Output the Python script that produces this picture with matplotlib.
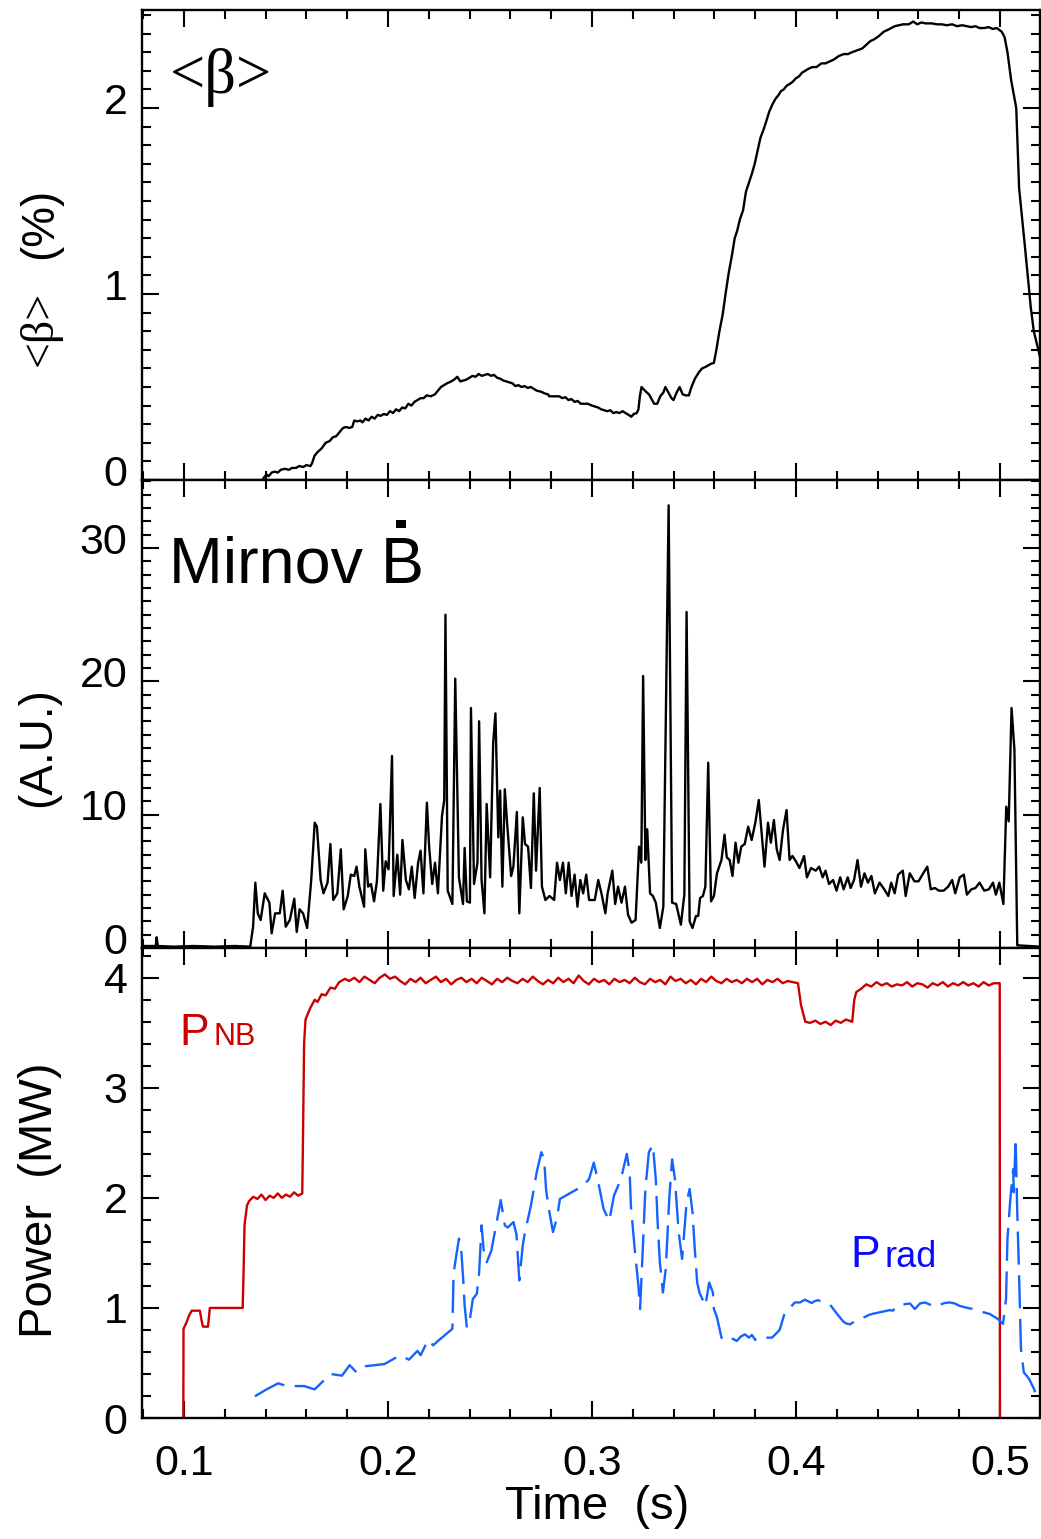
import numpy as np
import matplotlib
matplotlib.use('Agg')
import matplotlib.pyplot as plt
from matplotlib.ticker import MultipleLocator, FixedLocator
from matplotlib.transforms import ScaledTranslation
from matplotlib.patches import Rectangle

plt.rcParams['font.family'] = ['Liberation Sans', 'DejaVu Sans']

# ---------------- data (time in ms) ----------------
beta_t = [139.0,140.5,141.5,143.0,144.5,146.0,147.5,149.5,151.5,153.0,155.0,156.5,158.5,160.0,162.0,162.8,
          164.0,165.5,167.5,169.5,171.5,173.0,174.6,176.5,178.0,179.5,181.0,182.5,183.5,185.0,186.5,187.5,
          189.0,190.5,192.0,193.5,195.0,196.5,198.0,199.5,201.0,202.5,204.0,205.5,207.0,208.5,210.0,211.5,
          213.0,214.5,216.0,217.5,219.0,221.0,223.0,224.5,226.0,227.5,229.0,231.0,232.5,234.0,235.5,237.0,
          238.5,240.0,241.5,243.0,244.5,246.0,247.5,249.0,250.5,252.0,253.5,255.0,256.5,258.0,259.5,261.0,
          262.5,264.0,265.5,267.0,268.5,270.0,271.5,273.0,275.0,277.0,278.6,279.0,282.0,284.0,285.5,287.0,
          288.5,290.0,291.5,293.0,294.5,296.0,298.0,300.0,301.5,303.0,304.5,306.0,307.5,309.0,310.5,312.0,
          313.5,315.0,316.5,318.0,319.3,320.5,322.0,322.8,323.5,324.3,326.0,328.0,329.5,330.5,332.0,333.5,
          335.0,336.0,337.5,339.0,340.0,341.5,343.0,344.5,346.0,347.5,348.8,350.5,352.5,354.0,356.0,358.4,
          359.8,361.0,362.5,364.1,365.5,367.0,368.5,370.0,371.2,372.5,374.1,375.5,377.0,378.5,379.8,381.2,
          382.6,384.0,385.5,386.9,388.5,390.0,391.5,392.6,394.0,395.5,397.0,398.3,400.0,401.5,403.0,404.5,
          406.0,408.0,410.0,412.5,414.5,416.5,418.5,421.1,423.5,425.5,427.5,430.0,432.5,434.5,436.5,438.5,
          441.0,443.0,445.0,446.7,448.5,450.5,452.5,455.3,457.5,459.5,461.5,463.5,466.7,469.0,471.5,474.0,
          476.5,479.0,481.5,483.8,486.0,488.0,490.0,492.3,494.5,496.5,498.5,500.9,502.3,503.7,505.5,508.0,
          509.4,512.3,515.1,516.6,519.7]
beta_v = [0.01,0.03,0.02,0.04,0.045,0.04,0.055,0.06,0.055,0.065,0.065,0.075,0.07,0.08,0.075,0.09,
          0.13,0.15,0.17,0.20,0.21,0.23,0.235,0.26,0.28,0.285,0.28,0.285,0.32,0.315,0.32,0.31,
          0.33,0.32,0.34,0.33,0.35,0.345,0.355,0.35,0.37,0.36,0.38,0.37,0.39,0.385,0.41,0.40,
          0.42,0.43,0.44,0.44,0.455,0.45,0.46,0.48,0.50,0.51,0.52,0.53,0.54,0.555,0.53,0.535,
          0.54,0.55,0.56,0.555,0.57,0.56,0.565,0.57,0.56,0.565,0.55,0.545,0.535,0.53,0.525,0.52,
          0.505,0.51,0.50,0.505,0.495,0.50,0.49,0.48,0.475,0.465,0.46,0.45,0.45,0.45,0.44,0.445,
          0.43,0.435,0.42,0.425,0.41,0.41,0.41,0.40,0.395,0.39,0.38,0.375,0.37,0.375,0.36,0.365,
          0.36,0.37,0.36,0.35,0.34,0.355,0.36,0.38,0.45,0.50,0.48,0.46,0.43,0.41,0.41,0.45,
          0.47,0.50,0.47,0.44,0.43,0.47,0.50,0.46,0.455,0.455,0.50,0.545,0.58,0.60,0.61,0.625,
          0.63,0.70,0.80,0.89,1.00,1.11,1.20,1.30,1.34,1.40,1.45,1.55,1.60,1.65,1.70,1.77,
          1.84,1.88,1.93,1.98,2.02,2.05,2.07,2.09,2.10,2.12,2.13,2.14,2.16,2.17,2.19,2.20,
          2.21,2.22,2.22,2.24,2.24,2.25,2.26,2.28,2.29,2.29,2.30,2.31,2.32,2.34,2.36,2.37,
          2.39,2.41,2.42,2.43,2.44,2.445,2.45,2.45,2.465,2.45,2.46,2.455,2.455,2.45,2.45,2.445,
          2.45,2.44,2.445,2.44,2.435,2.44,2.43,2.43,2.435,2.425,2.43,2.41,2.38,2.30,2.15,2.00,
          1.57,1.25,0.93,0.80,0.66]

mir_t = [79.5,84.0,86.2,86.6,87.2,95.0,105.0,115.0,125.0,132.5,
         133.9,135.0,136.2,137.6,139.6,141.9,143.0,144.7,147.0,148.4,149.9,151.9,154.1,155.3,156.7,158.4,
         160.4,162.4,164.1,165.2,167.0,168.4,170.4,171.8,173.2,175.2,176.9,178.3,180.3,181.8,183.5,184.6,
         186.0,188.3,188.9,190.3,191.7,193.2,194.6,196.3,197.7,198.9,200.3,202.0,202.8,204.6,206.0,207.1,
         208.8,210.3,211.7,213.1,214.8,216.0,217.4,219.1,220.2,221.7,223.1,224.5,226.5,227.6,228.2,229.3,
         231.6,233.0,234.8,236.8,237.6,238.7,240.2,240.7,242.2,243.9,244.7,245.9,247.3,248.4,250.1,251.6,
         252.7,254.1,255.0,256.1,257.3,258.4,260.4,261.5,263.2,264.4,266.1,267.2,268.7,270.1,271.5,272.6,
         274.4,275.5,277.2,279.2,281.5,282.9,284.3,285.8,287.2,288.6,290.0,291.5,292.9,294.3,295.7,297.2,
         298.6,301.4,303.1,304.8,306.6,307.7,310.0,311.4,312.8,314.5,316.2,317.7,319.4,321.4,323.1,324.2,
         325.1,326.2,327.1,328.5,329.9,331.3,333.3,335.0,337.6,339.3,341.3,343.6,345.3,346.4,347.9,349.3,
         351.0,352.1,353.0,354.4,355.6,357.0,358.4,359.8,361.3,363.5,365.0,366.1,367.5,368.9,370.4,371.8,
         373.2,374.9,376.6,378.3,380.1,381.8,383.2,384.6,386.3,387.7,389.2,390.6,392.0,393.7,395.4,396.9,
         398.3,400.0,401.7,404.0,405.4,407.4,409.7,411.4,413.1,414.5,416.2,418.2,419.9,421.7,423.4,425.4,
         426.8,428.5,430.2,431.9,433.6,435.3,437.0,438.7,441.0,443.3,445.3,446.7,448.4,450.1,452.4,453.8,
         455.8,458.1,460.1,462.4,464.4,466.1,468.1,470.1,472.4,474.6,476.6,478.1,480.3,482.3,483.8,486.0,
         488.0,490.0,492.3,494.6,496.6,498.0,499.7,501.7,503.1,504.3,505.7,507.1,508.5,520.0]
mir_v = [0.15,0.15,0.15,0.8,0.15,0.1,0.15,0.1,0.15,0.1,
         1.6,4.9,2.6,2.1,4.1,3.4,1.1,2.6,2.6,4.3,1.6,2.1,3.7,1.2,2.9,2.6,
         1.5,5.1,9.4,9.1,5.1,4.1,4.9,7.8,3.6,4.1,7.4,2.9,3.9,5.5,5.4,6.1,
         4.6,3.1,7.4,4.6,4.8,3.5,5.0,10.8,4.3,6.5,5.9,14.4,3.9,7.0,4.0,8.1,
         5.1,4.4,6.1,3.75,6.4,7.3,4.1,10.9,7.6,4.8,6.4,4.1,9.9,11.1,25.0,4.3,
         3.3,20.2,5.3,3.3,7.5,3.5,3.4,18.0,4.8,6.4,17.0,5.1,2.6,10.8,5.3,15.4,
         17.6,8.3,11.8,4.6,11.9,9.4,5.4,6.1,10.2,2.6,9.8,7.8,7.6,4.5,11.6,5.8,
         12.0,4.6,3.6,3.9,3.6,6.4,5.1,6.4,4.1,6.4,3.9,5.5,3.1,5.1,4.1,5.5,
         3.6,3.6,5.1,4.0,2.6,4.1,5.8,3.3,4.6,3.4,4.6,2.5,1.9,2.1,7.6,6.4,
         20.4,6.6,8.9,4.1,3.9,3.4,1.5,3.1,33.2,3.4,3.3,1.75,4.0,25.2,2.0,1.5,
         2.4,2.4,3.75,3.9,4.6,13.9,3.5,3.9,5.6,6.6,8.5,6.8,6.6,5.4,7.9,6.4,
         7.6,7.8,9.1,8.1,9.4,11.1,8.6,6.1,9.4,7.9,9.6,7.4,6.6,8.9,10.35,6.6,
         6.9,6.5,6.0,6.9,5.3,6.0,5.8,6.1,5.3,5.8,4.8,5.1,4.3,5.3,4.4,5.3,
         4.5,5.1,6.6,4.6,5.6,4.9,5.4,4.1,4.9,4.4,3.9,4.9,4.1,5.5,5.8,3.9,
         5.6,5.0,5.0,5.6,6.1,4.4,4.5,4.3,4.3,4.6,5.1,4.1,5.3,5.5,4.0,4.4,
         4.5,4.9,4.3,4.4,4.9,4.0,4.9,3.3,10.6,9.5,18.0,14.9,0.2,0.1]

pnb_t = [99.7,99.8,101.3,102.5,103.8,107.8,108.5,109.3,111.8,112.7,128.8,129.2,129.7,130.9,131.9,
         134.0,136.0,138.0,140.0,142.0,144.0,146.0,148.0,150.0,152.0,154.0,156.0,158.0,158.4,158.9,159.6,
         161.8,164.1,165.5,167.5,169.5,171.8,174.0,176.1,178.9,
         181.0,183.5,186.0,188.5,191.0,193.5,196.0,198.5,201.0,203.5,206.0,208.5,211.0,213.5,216.0,218.5,
         221.0,223.5,226.0,228.5,231.0,233.5,236.0,238.5,241.0,243.5,246.0,248.5,251.0,253.5,256.0,258.5,
         261.0,263.5,266.0,268.5,271.0,273.5,276.0,278.5,281.0,283.5,286.0,288.5,291.0,293.5,296.0,298.5,
         301.0,303.5,306.0,308.5,311.0,313.5,316.0,318.5,321.0,323.5,326.0,328.5,331.0,333.5,336.0,338.5,
         341.0,343.5,346.0,348.5,351.0,353.5,356.0,358.5,361.0,363.5,366.0,368.5,371.0,373.5,376.0,378.5,
         381.0,383.5,386.0,388.5,391.0,393.5,396.0,398.5,401.0,
         402.5,404.6,407.0,409.5,412.0,414.5,417.0,419.5,422.0,424.5,427.6,428.6,429.6,432.0,434.5,437.0,
         439.5,442.0,444.5,447.0,449.5,452.0,454.5,457.0,459.5,462.0,464.5,467.0,469.5,472.0,474.5,477.0,
         479.5,482.0,484.5,487.0,489.5,492.0,494.5,497.0,499.9,500.0]
pnb_v = [0.0,0.81,0.87,0.93,0.975,0.975,0.90,0.83,0.83,1.0,1.0,1.3,1.75,1.93,1.97,
         2.01,1.99,2.03,1.98,2.02,2.00,2.04,2.00,2.03,2.01,2.05,2.02,2.04,2.6,3.4,3.62,
         3.72,3.80,3.78,3.85,3.84,3.91,3.90,3.96,3.99,
         3.97,4.00,3.96,4.01,3.98,3.95,4.00,4.03,3.99,4.01,3.97,3.94,3.99,3.96,4.00,3.95,
         3.98,4.01,3.96,3.99,3.94,3.98,4.00,3.96,3.99,3.95,4.00,3.97,3.94,3.99,3.96,4.00,
         3.97,3.95,3.99,3.96,4.01,3.97,3.94,3.98,3.95,4.00,3.96,3.99,3.95,4.02,3.97,3.94,
         3.99,3.96,3.98,3.94,3.99,3.96,3.98,3.95,4.00,3.96,3.94,3.99,3.96,3.98,3.94,4.01,
         3.97,3.99,3.95,3.98,3.94,3.99,3.96,4.01,3.97,3.95,3.99,3.96,3.98,3.95,3.99,3.96,
         3.99,3.94,3.98,3.96,3.99,3.95,3.97,3.96,3.95,
         3.75,3.60,3.59,3.61,3.58,3.60,3.57,3.61,3.59,3.62,3.60,3.80,3.87,3.90,3.94,3.92,
         3.96,3.93,3.95,3.92,3.94,3.93,3.96,3.92,3.95,3.94,3.91,3.95,3.93,3.96,3.92,3.95,
         3.93,3.96,3.93,3.95,3.92,3.96,3.93,3.95,3.95,0.0]

prad_t = [134.8,140.5,146.2,150.4,159.0,164.1,171.8,177.5,181.2,184.6,188.9,198.3,206.0,210.3,214.5,216.0,
          219.7,222.2,224.5,231.6,232.2,234.8,235.9,237.0,237.6,238.7,240.2,241.6,243.6,244.7,245.9,247.0,
          248.4,250.7,253.0,255.3,257.3,258.7,261.5,263.0,264.4,266.1,267.2,270.1,272.9,275.2,276.6,277.5,
          278.6,280.9,282.9,284.3,287.2,290.0,295.7,298.6,300.9,302.8,305.7,308.5,310.8,314.2,317.1,318.5,
          319.1,320.8,322.8,323.6,324.8,326.2,327.9,329.9,331.3,332.2,333.3,334.8,336.2,337.9,339.3,340.7,
          342.5,344.2,346.4,347.9,349.3,350.4,351.6,352.7,355.6,357.5,359.3,359.8,361.3,
          363.5,365.0,367.0,369.0,371.0,373.0,375.0,377.0,378.4,380.0,382.0,384.0,388.3,392.0,394.6,397.0,
          399.5,402.0,404.4,406.0,407.8,409.0,410.7,412.5,414.0,416.7,420.0,423.0,424.5,426.5,429.0,431.4,
          434.0,436.3,438.5,441.0,443.5,446.0,447.5,449.5,452.0,455.9,458.3,460.8,463.2,465.7,468.1,470.6,
          473.0,475.5,478.0,480.0,484.0,487.0,490.2,495.0,499.0,501.5,503.0,
          503.7,505.1,506.5,506.8,507.7,508.5,509.4,510.3,511.7,514.3,516.8,518.0]
prad_v = [0.197,0.26,0.315,0.29,0.29,0.26,0.40,0.385,0.48,0.415,0.47,0.49,0.57,0.53,0.61,0.57,
          0.71,0.66,0.70,0.81,1.32,1.63,1.54,1.23,1.02,0.82,0.90,1.08,1.13,1.32,1.75,1.51,
          1.415,1.52,1.75,1.98,1.75,1.73,1.78,1.67,1.25,1.57,1.69,1.93,2.23,2.415,2.35,2.08,
          1.93,1.69,1.82,1.99,2.02,2.05,2.11,2.17,2.32,2.17,1.90,1.79,2.02,2.17,2.40,2.23,
          1.93,1.57,1.20,0.99,1.48,2.08,2.415,2.48,2.17,1.78,1.415,1.14,1.355,1.99,2.35,2.17,
          1.69,1.445,1.96,2.08,1.87,1.54,1.23,1.14,1.02,1.23,1.14,0.99,0.915,
          0.73,0.70,0.705,0.72,0.70,0.74,0.76,0.73,0.755,0.71,0.735,0.73,0.73,0.80,0.96,1.00,
          1.05,1.05,1.075,1.06,1.045,1.06,1.07,1.06,1.05,1.03,0.95,0.88,0.86,0.85,0.88,0.90,
          0.92,0.94,0.95,0.96,0.97,0.98,0.975,1.02,1.03,1.04,0.99,1.04,1.05,1.03,1.05,1.03,
          1.045,1.05,1.04,1.02,1.00,0.99,0.97,0.945,0.90,0.855,1.08,
          1.63,1.99,2.26,2.05,2.54,1.87,1.29,0.63,0.415,0.355,0.26,0.197]

x_ticks = [0.1, 0.2, 0.3, 0.4, 0.5]
x_ticklabels = ['0.1', '0.2', '0.3', '0.4', '0.5']

# ---------------- figure ----------------
W, H = 1041, 1539
fig = plt.figure(figsize=(W / 100, H / 100), dpi=100)


def axrect(l, t, r, b):
    return [l / W, 1 - b / H, (r - l) / W, (b - t) / H]


ax1 = fig.add_axes(axrect(141.5, 10, 1039.5, 480))
ax2 = fig.add_axes(axrect(141.5, 480, 1039.5, 948), sharex=ax1)
ax3 = fig.add_axes(axrect(141.5, 948, 1039.5, 1418), sharex=ax1)

lw = 1.7
ax1.plot(np.array(beta_t) / 1000, beta_v, color='black', lw=lw)
ax2.plot(np.array(mir_t) / 1000, mir_v, color='black', lw=lw)
ax3.plot(np.array(pnb_t) / 1000, pnb_v, color='#cc0000', lw=lw)
ax3.plot(np.array(prad_t) / 1000, prad_v, color='#1463ff', lw=lw,
         linestyle=(0, (14, 4.5)))

ax1.set_xlim(0.0792, 0.5194)
ax1.set_ylim(0, 2.527)
ax2.set_ylim(0, 35.1)
ax3.set_ylim(0, 4.27)

ax1.xaxis.set_major_locator(FixedLocator(x_ticks))
ax1.xaxis.set_minor_locator(MultipleLocator(0.02))
ax1.yaxis.set_major_locator(MultipleLocator(1))
ax1.yaxis.set_minor_locator(MultipleLocator(0.1))
ax2.yaxis.set_major_locator(MultipleLocator(10))
ax2.yaxis.set_minor_locator(MultipleLocator(1))
ax3.yaxis.set_major_locator(MultipleLocator(1))
ax3.yaxis.set_minor_locator(MultipleLocator(0.2))

for ax in (ax1, ax2, ax3):
    for s in ax.spines.values():
        s.set_linewidth(1.7)
    ax.tick_params(which='both', direction='in', top=True, right=True,
                   width=1.5, labelsize=31)
    ax.tick_params(which='major', length=12.5)
    ax.tick_params(which='minor', length=6.5)
    ax.tick_params(axis='y', pad=10)
    ax.tick_params(axis='x', pad=19)

ax1.tick_params(axis='x', labelbottom=False)
ax2.tick_params(axis='x', labelbottom=False)
ax3.set_xticks(x_ticks)
ax3.set_xticklabels(x_ticklabels)

fig.canvas.draw()
off = ScaledTranslation(0, 10 / 100, fig.dpi_scale_trans)
for ax in (ax1, ax2):
    for lab in ax.get_yticklabels():
        lab.set_transform(lab.get_transform() + off)

# panel annotations
ax1.text(0.032, 0.823, '<β>', transform=ax1.transAxes, fontsize=45,
         family=['Liberation Serif', 'DejaVu Serif'], va='baseline', ha='left')
ax2.text(0.0306, 0.782, 'Mirnov B', transform=ax2.transAxes, fontsize=46.5,
         va='baseline', ha='left')
# dot over the B (time derivative)
ax2.add_patch(Rectangle((0.2834, 0.8974), 0.0111, 0.0171,
                        transform=ax2.transAxes, facecolor='black',
                        edgecolor='none'))
ax3.text(0.0425, 0.7936, 'P', transform=ax3.transAxes, fontsize=32,
         color='#cc0000', va='baseline', ha='left')
ax3.text(0.0802, 0.7936, 'NB', transform=ax3.transAxes, fontsize=22,
         color='#cc0000', va='baseline', ha='left')
ax3.text(0.789, 0.322, 'P', transform=ax3.transAxes, fontsize=32,
         color='#0a0aff', va='baseline', ha='left')
ax3.text(0.827, 0.322, 'rad', transform=ax3.transAxes, fontsize=26,
         color='#0a0aff', va='baseline', ha='left')

# axis labels
fig.text(40 / W, 1 - 223 / H, '(%)', rotation=90, fontsize=33,
         ha='center', va='center')
fig.text(40 / W, 1 - 328 / H, '<β>', rotation=90, fontsize=33,
         family=['Liberation Serif', 'DejaVu Serif'], ha='center', va='center')
fig.text(38 / W, 1 - 747 / H, '(A.U.)', rotation=90, fontsize=33,
         ha='center', va='center')
fig.text(40 / W, 1 - 1200 / H, 'Power  (MW)', rotation=90, fontsize=34,
         ha='center', va='center')
fig.text(597 / W, 1 - 1507 / H, 'Time  (s)', fontsize=34,
         ha='center', va='center')

fig.savefig('out.png', dpi=100)
